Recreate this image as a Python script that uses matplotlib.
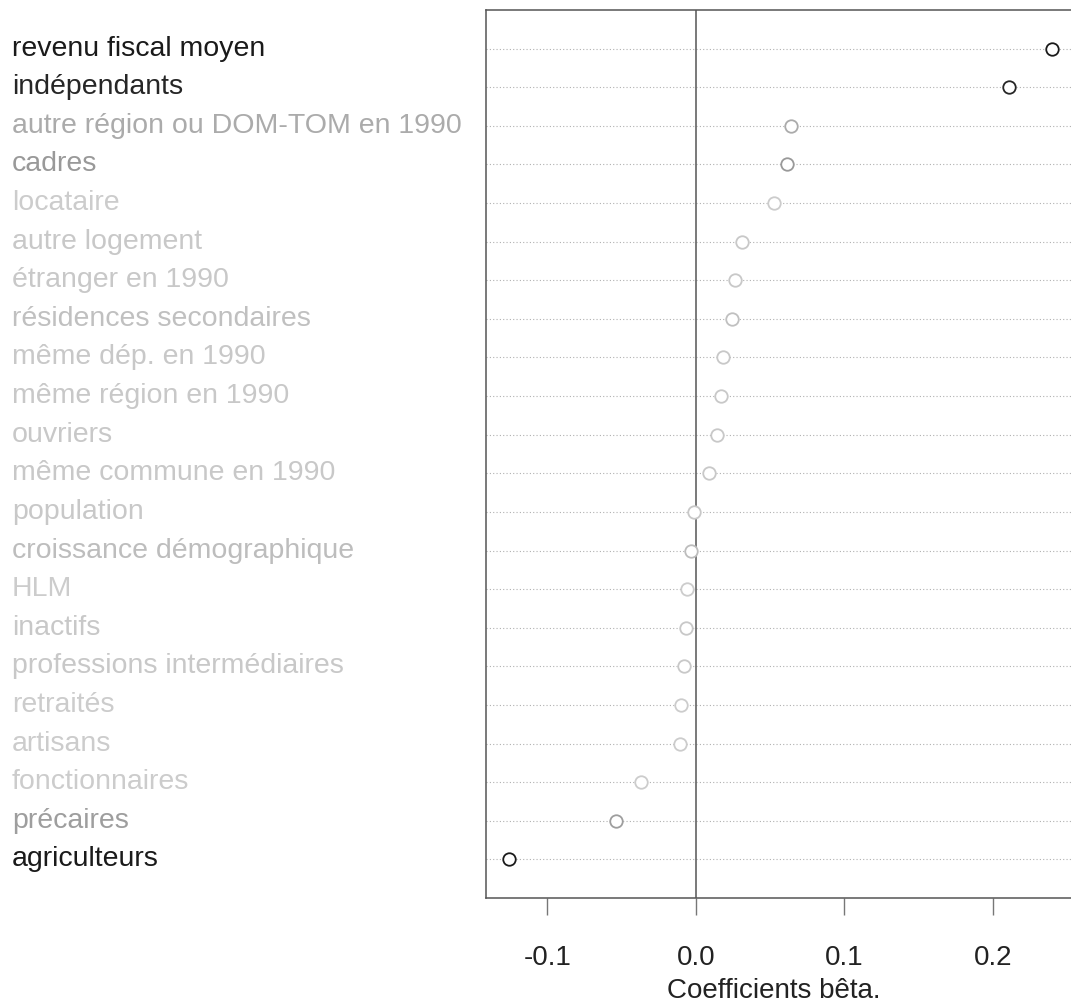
import matplotlib
matplotlib.use('Agg')
import matplotlib.pyplot as plt
import matplotlib.transforms as mtransforms

# variables, top to bottom
labels = ["revenu fiscal moyen", "indépendants", "autre région ou DOM-TOM en 1990",
          "cadres", "locataire", "autre logement", "étranger en 1990",
          "résidences secondaires", "même dép. en 1990", "même région en 1990",
          "ouvriers", "même commune en 1990", "population", "croissance démographique",
          "HLM", "inactifs", "professions intermédiaires", "retraités", "artisans",
          "fonctionnaires", "précaires", "agriculteurs"]
beta = [0.240, 0.211, 0.064, 0.061, 0.0525, 0.031, 0.026, 0.024, 0.018, 0.017,
        0.014, 0.009, -0.001, -0.003, -0.006, -0.007, -0.008, -0.010, -0.011,
        -0.037, -0.054, -0.126]
greys = ["#1a1a1a", "#262626", "#ababab", "#999999", "#cccccc", "#c8c8c8", "#c8c8c8",
         "#c0c0c0", "#c8c8c8", "#c8c8c8", "#c8c8c8", "#c8c8c8", "#c8c8c8", "#bdbdbd",
         "#cccccc", "#c8c8c8", "#c8c8c8", "#cccccc", "#cccccc", "#cccccc", "#9e9e9e",
         "#1a1a1a"]
xticks = [-0.1, 0.0, 0.1, 0.2]

plt.rcParams['font.family'] = ['Liberation Sans', 'DejaVu Sans']

fig = plt.figure(figsize=(10.71, 10.05), dpi=100)
ax = fig.add_axes([485.7 / 1071, 1 - 898 / 1005, (1075 - 485.7) / 1071, 888 / 1005])

n = len(labels)
ypos = [n - i for i in range(n)]

for y in ypos:
    ax.axhline(y, color="#b0b0b0", lw=0.8, ls=(0, (1, 2)), zorder=1)
ax.axvline(0, color="#555555", lw=1.1, zorder=2)

for x, y, c in zip(beta, ypos, greys):
    ax.plot(x, y, 'o', mfc='white', mec=c, ms=9, mew=1.3, zorder=3)

ax.set_xlim(-0.1415, 0.2552)
ax.set_ylim(0, n + 1)
ax.set_yticks([])
ax.set_xticks(xticks)
ax.set_xticklabels(["%.1f" % t for t in xticks], fontsize=20, color="#222222")
ax.tick_params(axis='x', length=12, width=1, color="#777777", pad=22)
for s in ax.spines.values():
    s.set_color("#555555")
    s.set_linewidth(1.1)

# axis title placed by hand, R puts it right under the tick labels
fig.text(774 / 1071, 1 - 998 / 1005, "Coefficients bêta.", fontsize=20,
         color="#222222", ha='center', va='baseline')

trans = mtransforms.blended_transform_factory(fig.transFigure, ax.transData)
for lab, y, c in zip(labels, ypos, greys):
    ax.text(12 / 1071, y, lab, transform=trans, ha='left', va='center',
            fontsize=20.5, color=c, clip_on=False)

fig.savefig("out.png", dpi=100)
